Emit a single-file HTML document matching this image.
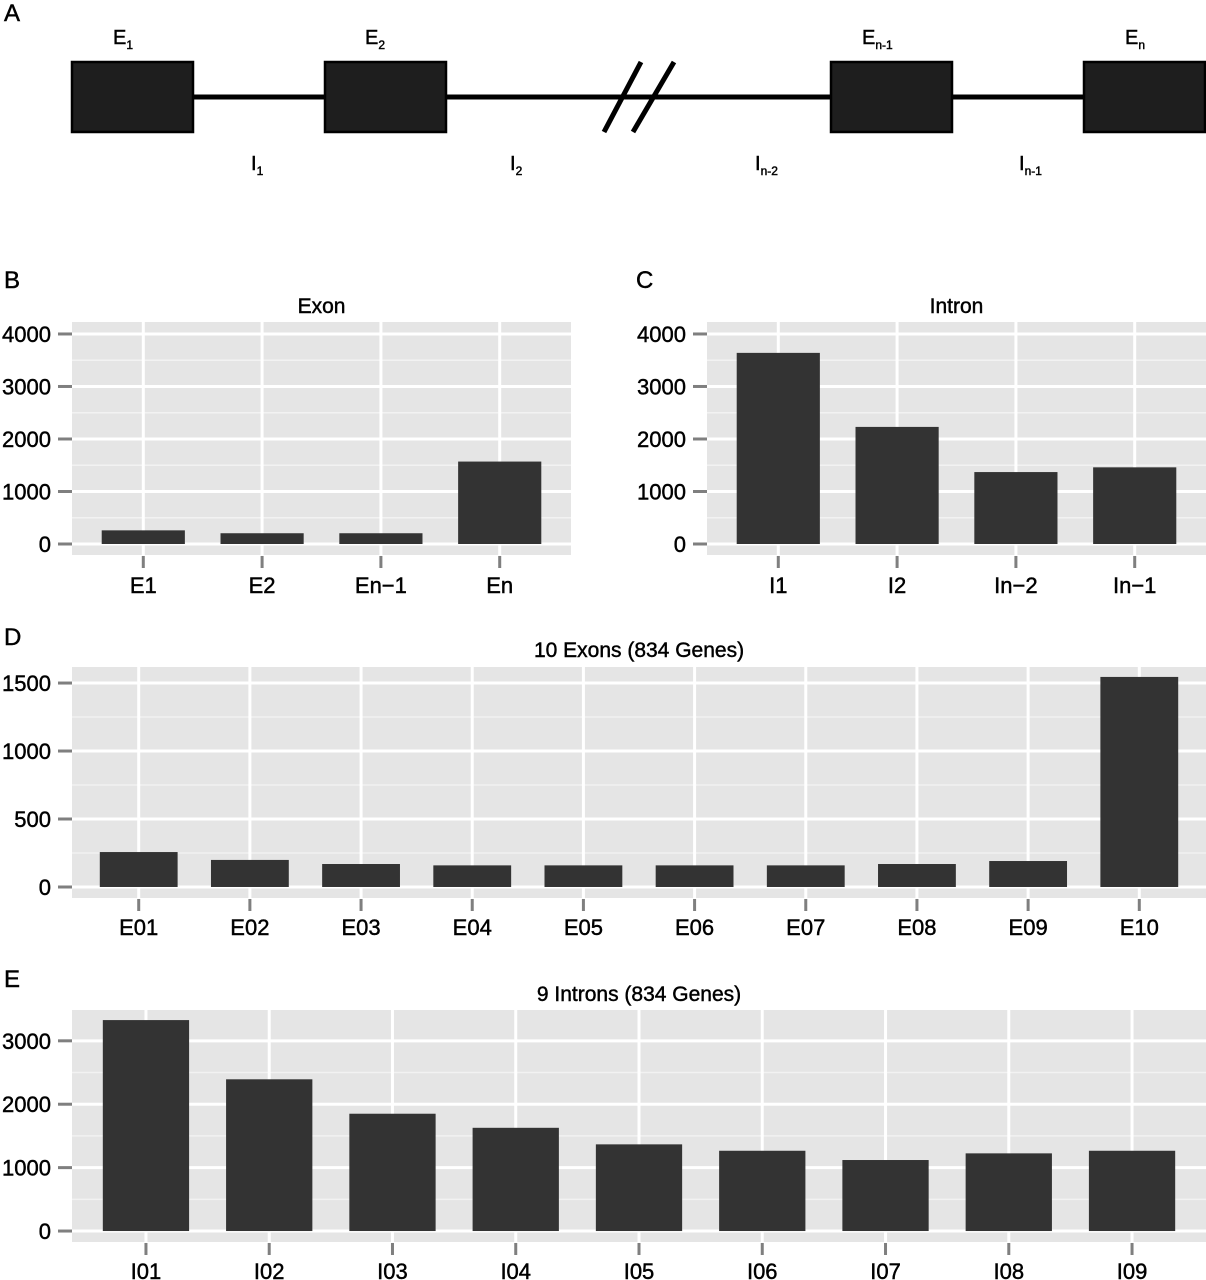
<!DOCTYPE html>
<html><head><meta charset="utf-8">
<style>
html,body{margin:0;padding:0;background:#fff;}
svg{display:block;font-family:"Liberation Sans",Arial,sans-serif;}
svg text{stroke:#000;stroke-width:0.45px;}
</style></head>
<body>
<svg id="fig" width="1206" height="1280" viewBox="0 0 1206 1280" xmlns="http://www.w3.org/2000/svg">
  <g>
    <text x="4" y="21" font-size="24">A</text>
    <line x1="190" y1="97" x2="1086" y2="97" stroke="#000" stroke-width="5"/>
    <line x1="604" y1="132" x2="641" y2="62" stroke="#000" stroke-width="5"/>
    <line x1="633" y1="132" x2="674" y2="62" stroke="#000" stroke-width="5"/>
    <rect x="72" y="62" width="121" height="70" fill="#1e1e1e" stroke="#000" stroke-width="2.5"/>
    <rect x="325" y="62" width="121" height="70" fill="#1e1e1e" stroke="#000" stroke-width="2.5"/>
    <rect x="831" y="62" width="121" height="70" fill="#1e1e1e" stroke="#000" stroke-width="2.5"/>
    <rect x="1084" y="62" width="121" height="70" fill="#1e1e1e" stroke="#000" stroke-width="2.5"/>
    <text x="113" y="44" font-size="20">E<tspan font-size="12" dy="5">1</tspan></text>
    <text x="365" y="44" font-size="20">E<tspan font-size="12" dy="5">2</tspan></text>
    <text x="862" y="44" font-size="20">E<tspan font-size="12" dy="5">n-1</tspan></text>
    <text x="1125" y="44" font-size="20">E<tspan font-size="12" dy="5">n</tspan></text>
    <text x="251" y="170" font-size="20">I<tspan font-size="12" dy="5">1</tspan></text>
    <text x="510" y="170" font-size="20">I<tspan font-size="12" dy="5">2</tspan></text>
    <text x="755" y="170" font-size="20">I<tspan font-size="12" dy="5">n-2</tspan></text>
    <text x="1019" y="170" font-size="20">I<tspan font-size="12" dy="5">n-1</tspan></text>
  </g>
  <text x="4" y="288" font-size="24">B</text>
  <text x="636" y="288" font-size="24">C</text>
  <text x="4" y="645" font-size="24">D</text>
  <text x="4" y="987" font-size="24">E</text>
</svg>
<script>
const exonCats = ["E1","E2","En\u22121","En"];
const exonVals = [260, 205, 205, 1570];
const exonTicks = [0, 1000, 2000, 3000, 4000];
const exonMinor = [500, 1500, 2500, 3500];

const intronCats = ["I1","I2","In\u22122","In\u22121"];
const intronVals = [3640, 2230, 1370, 1460];
const intronTicks = [0, 1000, 2000, 3000, 4000];
const intronMinor = [500, 1500, 2500, 3500];

const exon10Cats = ["E01","E02","E03","E04","E05","E06","E07","E08","E09","E10"];
const exon10Vals = [257, 199, 169, 159, 159, 159, 159, 169, 191, 1545];
const exon10Ticks = [0, 500, 1000, 1500];
const exon10Minor = [250, 750, 1250];

const intron9Cats = ["I01","I02","I03","I04","I05","I06","I07","I08","I09"];
const intron9Vals = [3327, 2393, 1850, 1628, 1367, 1266, 1120, 1225, 1266];
const intron9Ticks = [0, 1000, 2000, 3000];
const intron9Minor = [500, 1500, 2500];

const NS = "http://www.w3.org/2000/svg";
const svg = document.getElementById("fig");
function mk(tag, attrs, parent){
  const e = document.createElementNS(NS, tag);
  for (const k in attrs) e.setAttribute(k, attrs[k]);
  (parent||svg).appendChild(e);
  return e;
}

function barChart(cfg){
  const g = mk("g", {});
  
  
  const L = cfg.left, R = cfg.right, T = cfg.top, B = cfg.bottom;
  const n = cfg.cats.length;
  const unit = (R - L) / (n + 0.2);
  const xPos = i => L + (i + 0.6) * unit;
  const yPos = v => B - (v - cfg.ymin) / (cfg.ymax - cfg.ymin) * (B - T);

  const bg = mk("rect", {x:L, y:T, width:R-L, height:B-T, fill:"#e5e5e5"}, g);
  
  

  cfg.minor.forEach(v => {
    const l = mk("line", {x1:L, x2:R, y1:yPos(v), y2:yPos(v), stroke:"#f2f2f2", "stroke-width":1.5}, g);
    
    
  });
  cfg.ticks.forEach(v => {
    const l = mk("line", {x1:L, x2:R, y1:yPos(v), y2:yPos(v), stroke:"#fff", "stroke-width":3}, g);
    
    
    const t = mk("line", {x1:L-14, x2:L, y1:yPos(v), y2:yPos(v), stroke:"#7f7f7f", "stroke-width":3}, g);
    
    
    const tx = mk("text", {x:L-21, y:yPos(v)+8, "font-size":22, "text-anchor":"end", fill:"#000"}, g);
    tx.textContent = v;
    
    
  });
  cfg.cats.forEach((c, i) => {
    const l = mk("line", {x1:xPos(i), x2:xPos(i), y1:T, y2:B, stroke:"#fff", "stroke-width":3}, g);
    
    
  });
  const bw = 0.7 * unit;
  cfg.vals.forEach((v, i) => {
    const y0 = yPos(0), y1 = yPos(v);
    const r = mk("rect", {x:xPos(i)-bw/2, y:y1, width:bw, height:y0-y1, fill:"#333333"}, g);
    
    
  });
  cfg.cats.forEach((c, i) => {
    const t = mk("line", {x1:xPos(i), x2:xPos(i), y1:B+1, y2:B+13, stroke:"#7f7f7f", "stroke-width":3}, g);
    
    
    const tx = mk("text", {x:xPos(i), y:cfg.labelY, "font-size":22, "text-anchor":"middle", fill:"#000"}, g);
    tx.textContent = c;
    
    
  });
  const title = mk("text", {x:(L+R)/2, y:cfg.titleY, "font-size":21, "text-anchor":"middle", fill:"#000"}, g);
  title.textContent = cfg.title;
  
  
}

barChart({name:"exon-chart", cats:exonCats, vals:exonVals, ticks:exonTicks, minor:exonMinor,
  left:72, right:571, top:322, bottom:555, ymin:-209.5, ymax:4228, labelY:593, titleY:313, title:"Exon"});
barChart({name:"intron-chart", cats:intronCats, vals:intronVals, ticks:intronTicks, minor:intronMinor,
  left:707, right:1206, top:322, bottom:555, ymin:-209.5, ymax:4228, labelY:593, titleY:313, title:"Intron"});
barChart({name:"ten-exons-chart", cats:exon10Cats, vals:exon10Vals, ticks:exon10Ticks, minor:exon10Minor,
  left:72, right:1206, top:667, bottom:898, ymin:-81, ymax:1618, labelY:935, titleY:657, title:"10 Exons (834 Genes)"});
barChart({name:"nine-introns-chart", cats:intron9Cats, vals:intron9Vals, ticks:intron9Ticks, minor:intron9Minor,
  left:72, right:1206, top:1010, bottom:1242, ymin:-173, ymax:3486, labelY:1279, titleY:1001, title:"9 Introns (834 Genes)"});
</script>
</body></html>
